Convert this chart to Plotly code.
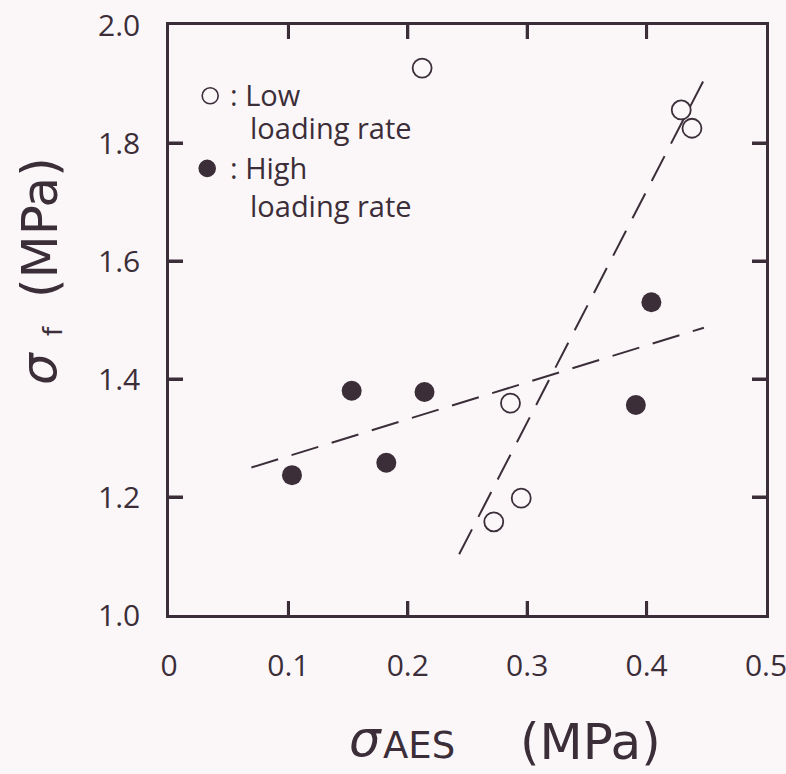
import plotly.graph_objects as go

# Data
low_x = [0.212, 0.429, 0.438, 0.286, 0.295, 0.272]
low_y = [1.927, 1.856, 1.825, 1.359, 1.198, 1.158]
high_x = [0.103, 0.153, 0.182, 0.214, 0.391, 0.404]
high_y = [1.237, 1.380, 1.258, 1.378, 1.356, 1.530]
fit_high_x = [0.069, 0.448]
fit_high_y = [1.250, 1.487]
fit_low_x = [0.243, 0.449]
fit_low_y = [1.103, 1.911]

x_ticks = [0, 0.1, 0.2, 0.3, 0.4, 0.5]
x_ticktext = ["0", "0.1", "0.2", "0.3", "0.4", "0.5"]
y_ticks = [1.0, 1.2, 1.4, 1.6, 1.8, 2.0]
y_ticktext = ["1.0", "1.2", "1.4", "1.6", "1.8", "2.0"]
x_range = [0, 0.5]
y_range = [1.0, 2.0]

legend_labels = ["Low", "High"]
legend_sub = "loading rate"

INK = "#3b2e38"
BG = "#fbf7f9"
FONT = "Open Sans"
TFONT = "DejaVu Sans"
TICKLEN = 14

fig = go.Figure()
fig.add_trace(go.Scatter(x=fit_high_x, y=fit_high_y, mode="lines",
                         line=dict(color=INK, width=2, dash="28px,14px"), showlegend=False))
fig.add_trace(go.Scatter(x=fit_low_x, y=fit_low_y, mode="lines",
                         line=dict(color=INK, width=2, dash="28px,14px"), showlegend=False))
fig.add_trace(go.Scatter(x=low_x, y=low_y, mode="markers",
                         marker=dict(symbol="circle-open", size=19, color=INK, line=dict(width=1.8, color=INK)),
                         showlegend=False))
fig.add_trace(go.Scatter(x=high_x, y=high_y, mode="markers",
                         marker=dict(symbol="circle", size=20, color=INK), showlegend=False))

axis_common = dict(showline=True, linecolor=INK, linewidth=2.5, mirror="allticks",
                   ticks="inside", ticklen=TICKLEN, tickwidth=3, tickcolor=INK,
                   showgrid=False, zeroline=False, automargin=False,
                   ticklabeloverflow="allow",
                   tickfont=dict(family=FONT, size=30, color=INK))

fig.update_layout(
    template="none",
    width=786, height=774,
    margin=dict(l=169, r=20, t=25, b=159),
    paper_bgcolor=BG, plot_bgcolor=BG,
    xaxis=dict(range=x_range, tickvals=x_ticks, ticktext=x_ticktext,
               ticklabelstandoff=22, **axis_common),
    yaxis=dict(range=y_range, tickvals=y_ticks, ticktext=y_ticktext,
               ticklabelstandoff=20, **axis_common),
)

# Inward tick marks on all four sides, positioned by the axis scales
tick_line = dict(color=INK, width=3)
for t in x_ticks:
    if x_range[0] < t < x_range[1]:
        fig.add_shape(type="line", xref="x", yref="y", ysizemode="pixel", yanchor=y_range[0],
                      x0=t, x1=t, y0=0, y1=TICKLEN, line=tick_line, layer="above")
        fig.add_shape(type="line", xref="x", yref="y", ysizemode="pixel", yanchor=y_range[1],
                      x0=t, x1=t, y0=-TICKLEN, y1=0, line=tick_line, layer="above")
for t in y_ticks:
    if y_range[0] < t < y_range[1]:
        fig.add_shape(type="line", xref="x", yref="y", xsizemode="pixel", xanchor=x_range[0],
                      x0=0, x1=TICKLEN, y0=t, y1=t, line=tick_line, layer="above")
        fig.add_shape(type="line", xref="x", yref="y", xsizemode="pixel", xanchor=x_range[1],
                      x0=-TICKLEN, x1=0, y0=t, y1=t, line=tick_line, layer="above")

# Legend (drawn inside the plot as in the original)
ann_font = dict(family=FONT, size=29, color=INK)
sym_pos = [(0.0345, 1.880, "rgba(0,0,0,0)"), (0.032, 1.757, INK)]
for sx, sy, fillc in sym_pos:
    fig.add_shape(type="circle", xref="x", yref="y", xsizemode="pixel", ysizemode="pixel",
                  xanchor=sx, yanchor=sy, x0=-8, x1=8, y0=-8, y1=8,
                  line=dict(color=INK, width=1.6), fillcolor=fillc)
text_rows = [
    (0.049, 1.882, ": " + legend_labels[0]),
    (0.066, 1.826, legend_sub),
    (0.049, 1.759, ": " + legend_labels[1]),
    (0.066, 1.694, legend_sub),
]
for lx, ly, txt in text_rows:
    fig.add_annotation(x=lx, y=ly, xref="x", yref="y", text=txt, showarrow=False,
                       xanchor="left", yanchor="middle", font=ann_font)

# Axis titles, pieced together in pixel offsets from the plot area
fig.add_annotation(x=0.0, y=0.0, xref="paper", yref="paper", xshift=196, yshift=-124,
                   text="<i>σ</i>", showarrow=False, xanchor="center", yanchor="middle",
                   font=dict(family=TFONT, size=50, color=INK))
fig.add_annotation(x=0.0, y=0.0, xref="paper", yref="paper", xshift=212, yshift=-130,
                   text="AES", showarrow=False, xanchor="left", yanchor="middle",
                   font=dict(family=TFONT, size=37, color=INK))
fig.add_annotation(x=0.0, y=0.0, xref="paper", yref="paper", xshift=421, yshift=-127,
                   text="(MPa)", showarrow=False, xanchor="center", yanchor="middle",
                   font=dict(family=TFONT, size=50, color=INK))
fig.add_annotation(x=0.0, y=0.0, xref="paper", yref="paper", xshift=-130, yshift=246,
                   text="<i>σ</i>", showarrow=False, xanchor="center", yanchor="middle",
                   textangle=-90, font=dict(family=TFONT, size=50, color=INK))
fig.add_annotation(x=0.0, y=0.0, xref="paper", yref="paper", xshift=-116, yshift=284,
                   text="f", showarrow=False, xanchor="center", yanchor="middle",
                   textangle=-90, font=dict(family=TFONT, size=26, color=INK))
fig.add_annotation(x=0.0, y=0.0, xref="paper", yref="paper", xshift=-129, yshift=387,
                   text="(MPa)", showarrow=False, xanchor="center", yanchor="middle",
                   textangle=-90, font=dict(family=TFONT, size=50, color=INK))

fig.write_html("out.html")
